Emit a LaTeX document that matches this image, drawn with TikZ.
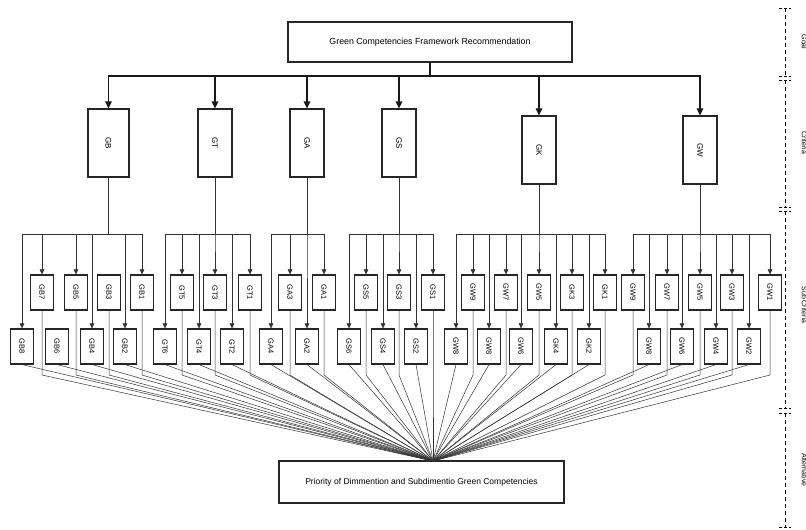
\documentclass[tikz,border=0pt]{standalone}
\usepackage{fontspec}
\usepackage{graphicx}
\setmainfont{Liberation Sans}
\usetikzlibrary{arrows.meta,calc}
\begin{document}
\begin{tikzpicture}[x=1pt,y=-1pt,
  every node/.style={inner sep=0pt},
  box/.style={draw=black!85, line width=1.1pt, fill=white},
  crit/.style={box, minimum width=34pt, minimum height=68pt, font=\fontsize{8}{9}\selectfont},
  sub/.style={box, minimum width=23pt, minimum height=35pt, font=\fontsize{7.5}{9}\selectfont},
  mainarr/.style={draw=black!90, line width=1.2pt, -{Triangle[length=7pt,width=6.5pt]}},
  subarr/.style={draw=black!80, line width=0.55pt, -{Triangle[length=5pt,width=4.5pt]}},
  link/.style={draw=black!80, line width=0.5pt},
  rail/.style={draw=black, line width=0.9pt, dash pattern=on 4pt off 3pt},
  tick/.style={draw=black, line width=0.9pt, dash pattern=on 3pt off 2pt},
  sidelabel/.style={rotate=-90, anchor=south, font=\fontsize{7}{8}\selectfont}]
\useasboundingbox (0,0) rectangle (806,530);

% goal and alternative
\node[box, minimum width=284pt, minimum height=40pt, font=\fontsize{8.8}{10}\selectfont] (goal) at (430,42) {Green Competencies Framework Recommendation};
\node[box, minimum width=285pt, minimum height=42pt, font=\fontsize{8.5}{10}\selectfont] (alt) at (421.5,482) {Priority of Dimmention and Subdimentio Green Competencies};
\coordinate (conv) at (433,461);
\coordinate (bus) at (0,76);
\coordinate (sbus) at (0,234);
\coordinate (low) at (0,375);

% criteria
\node[crit, minimum width=41pt] (GB) at (108.5,143) {\rotatebox{-90}{GB}};
\node[crit] (GT) at (215,143) {\rotatebox{-90}{GT}};
\node[crit] (GA) at (307,143) {\rotatebox{-90}{GA}};
\node[crit] (GS) at (399,143) {\rotatebox{-90}{GS}};
\node[crit] (GK) at (539,150) {\rotatebox{-90}{GK}};
\node[crit] (GW) at (700,150) {\rotatebox{-90}{GW}};

\foreach \c in {GB,GT,GA,GS,GK,GW}
  \draw[mainarr] (goal.south) -- (goal.south |- bus) -| (\c.north);

% sub criteria
\foreach \n/\x/\l/\y in {
  b8/22/GB8/346.5, b7/42/GB7/292.5, b6/57/GB6/346.5, b5/76/GB5/292.5,
  b4/92/GB4/346.5, b3/109/GB3/292.5, b2/125/GB2/346.5, b1/142/GB1/292.5,
  t6/165/GT6/346.5, t5/182/GT5/292.5, t4/199/GT4/346.5, t3/215/GT3/292.5,
  t2/232/GT2/346.5, t1/250/GT1/292.5,
  a4/271/GA4/346.5, a3/290/GA3/292.5, a2/307/GA2/346.5, a1/324/GA1/292.5,
  s6/349/GS6/346.5, s5/366/GS5/292.5, s4/383/GS4/346.5, s3/399/GS3/292.5,
  s2/416/GS2/346.5, s1/433/GS1/292.5,
  k10/456/GW8/346.5, k9/473/GW9/292.5, k8/489/GW8/346.5, k7/506/GW7/292.5,
  k6/521/GW6/346.5, k5/539/GW5/292.5, k4/556/GK4/346.5, k3/572/GK3/292.5,
  k2/589/GK2/346.5, k1/605/GK1/292.5,
  w9/633/GW9/292.5, w8/649/GW8/346.5, w7/667/GW7/292.5, w6/682/GW6/346.5,
  w5/700/GW5/292.5, w4/716/GW4/346.5, w3/732/GW3/292.5, w2/749/GW2/346.5,
  w1/770/GW1/292.5}
  \node[sub] (\n) at (\x,\y) {\rotatebox{-90}{\l}};

% criteria -> sub criteria
\foreach \p/\c in {GB/b8,GB/b7,GB/b5,GB/b4,GB/b2,GB/b1,
  GT/t6,GT/t5,GT/t4,GT/t3,GT/t2,GT/t1,
  GA/a4,GA/a3,GA/a2,GA/a1,
  GS/s6,GS/s5,GS/s4,GS/s3,GS/s2,GS/s1,
  GK/k10,GK/k9,GK/k8,GK/k7,GK/k6,GK/k5,GK/k4,GK/k3,GK/k2,GK/k1,
  GW/w9,GW/w8,GW/w7,GW/w6,GW/w5,GW/w4,GW/w3,GW/w2,GW/w1}
  \draw[subarr] (\p.south) -- (\p.south |- sbus) -| (\c.north);

% sub criteria -> alternative
\foreach \c in {b7,b5,b3,b1,t5,t3,t1,a3,a1,s5,s3,s1,k9,k7,k5,k3,k1,w9,w7,w5,w3,w1}
  \draw[link] (\c.south) -- (\c.south |- low) -- (conv);
\foreach \c in {b8,b6,b4,b2,t6,t4,t2,a4,a2,s6,s4,s2,k10,k8,k6,k4,k2,w8,w6,w4,w2}
  \draw[link] (\c.south) -- (conv);

% level rail on the right
\coordinate (r1) at (785,8);   \coordinate (r2) at (785,76);
\coordinate (r3) at (785,80);  \coordinate (r4) at (785,207);
\coordinate (r5) at (785,211); \coordinate (r6) at (785,408);
\coordinate (r7) at (785,413); \coordinate (r8) at (785,527);
\draw[rail] (r1) -- (r2);
\draw[rail] (r3) -- (r4);
\draw[rail] (r5) -- (r6);
\draw[rail] (r7) -- (r8);
\foreach \r in {r1,r2,r3,r4,r5,r6,r7,r8}
  \draw[tick] ($(\r)+(-6,0)$) -- ($(\r)+(6,0)$);
\node[sidelabel] (lgoal) at (801.5,42) {Goal};
\node[sidelabel] (lcrit) at (801.5,143) {Criteria};
\node[sidelabel] (lsub) at (801.5,305) {Sub Criteria};
\node[sidelabel] (lalt) at (801.5,470) {Alternative};
\end{tikzpicture}
\end{document}
